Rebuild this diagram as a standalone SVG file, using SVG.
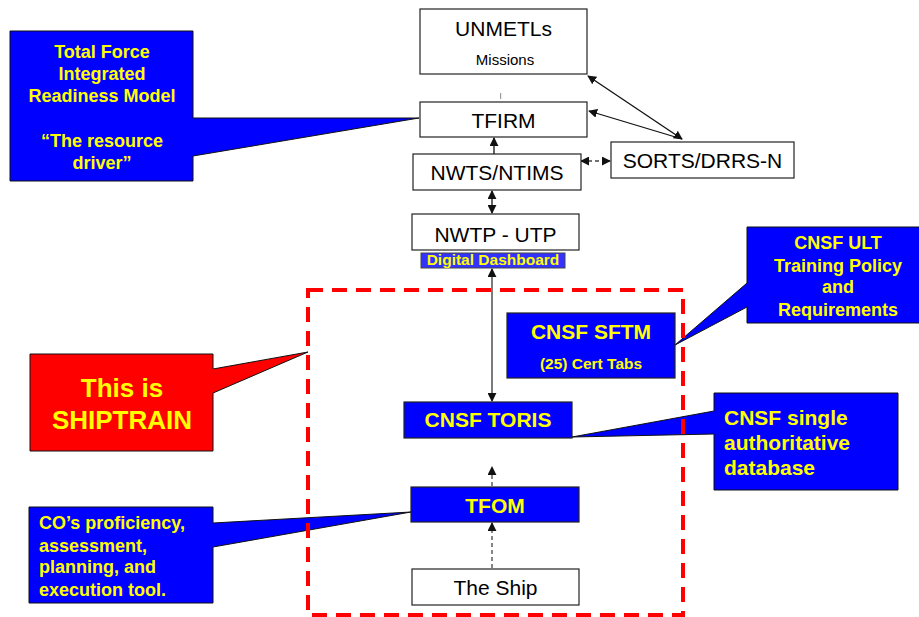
<svg xmlns="http://www.w3.org/2000/svg" width="919" height="617" viewBox="0 0 919 617">
<style>
.box{fill:#fff;stroke:#222;stroke-width:1.2}
.bbox{fill:#0000ff;stroke:#222;stroke-width:1.2}
.call{fill:#0000ff;stroke:#111;stroke-width:1}
.t{font-family:"Liberation Sans",Arial,sans-serif;fill:#000;text-anchor:middle}
.y{font-family:"Liberation Sans",Arial,sans-serif;fill:#ffff00;font-weight:bold}
.c{text-anchor:middle}
.ln{stroke:#111;stroke-width:1.3;fill:none}
.dash{stroke:#444;stroke-width:1.3;fill:none;stroke-dasharray:4,3}
</style>
<defs>
<marker id="ah" viewBox="0 0 10 10" refX="9" refY="5" markerWidth="9" markerHeight="9" markerUnits="userSpaceOnUse" orient="auto-start-reverse">
<path d="M0,0 L10,5 L0,10 z" fill="#111"/>
</marker>
</defs>
<rect width="919" height="617" fill="#fff"/>

<g id="callout-tfirm">
<polygon class="call" points="10,31 193,31 193,118 419,118 193,156 193,181 10,181"/>
<text class="y c" font-size="18" x="102" y="57.7">Total Force</text>
<text class="y c" font-size="18" x="102" y="79.5">Integrated</text>
<text class="y c" font-size="18" x="102" y="102">Readiness Model</text>
<text class="y c" font-size="18" x="102" y="147">“The resource</text>
<text class="y c" font-size="18" x="102" y="169">driver”</text>
</g>

<g id="callout-ult">
<polygon class="call" points="747,227 920,227 920,323 747,323 747,307 675,345 747,283"/>
<text class="y c" font-size="18" x="838" y="249.3">CNSF ULT</text>
<text class="y c" font-size="18" x="838" y="271.7">Training Policy</text>
<text class="y c" font-size="18" x="838" y="293.3">and</text>
<text class="y c" font-size="18" x="838" y="316">Requirements</text>
</g>

<g id="callout-db">
<polygon class="call" points="714,393 898,393 898,490 714,490 714,434 572,437 714,411"/>
<text class="y" font-size="21" x="724" y="425">CNSF single</text>
<text class="y" font-size="21" x="724" y="450">authoritative</text>
<text class="y" font-size="21" x="724" y="475">database</text>
</g>

<g id="callout-shiptrain">
<polygon points="30,354 213,354 213,369 308,352 213,393 213,451 30,451" fill="#ff0000" stroke="#111" stroke-width="1"/>
<text class="y c" font-size="26" x="122" y="396.7">This is</text>
<text class="y c" font-size="26" x="122" y="428.7">SHIPTRAIN</text>
</g>

<g id="callout-tfom">
<polygon class="call" points="29,507 213,507 213,523 411,512 213,547 213,603 29,603"/>
<text class="y" font-size="18" x="39" y="529.3">CO’s proficiency,</text>
<text class="y" font-size="18" x="39" y="551.7">assessment,</text>
<text class="y" font-size="18" x="39" y="573.3">planning, and</text>
<text class="y" font-size="18" x="39" y="595.7">execution tool.</text>
</g>

<g id="shiptrain-boundary">
<rect x="308" y="290" width="375" height="325" fill="none" stroke="#ff0000" stroke-width="4" stroke-dasharray="15,9"/>
</g>

<g id="connectors">
<line x1="500.7" y1="93" x2="500.7" y2="99" stroke="#888" stroke-width="1"/>
<line class="ln" x1="494" y1="154" x2="494" y2="138" marker-end="url(#ah)"/>
<line class="ln" x1="492" y1="191" x2="492" y2="213" marker-start="url(#ah)" marker-end="url(#ah)"/>
<line class="dash" x1="581" y1="161" x2="610" y2="161" marker-start="url(#ah)" marker-end="url(#ah)"/>
<line class="ln" x1="588" y1="76" x2="682" y2="139" marker-start="url(#ah)" marker-end="url(#ah)"/>
<line class="ln" x1="589" y1="111" x2="682" y2="139" marker-start="url(#ah)"/>
<line stroke="#333" stroke-width="1.3" x1="492" y1="269" x2="492" y2="401" marker-start="url(#ah)" marker-end="url(#ah)"/>
<line class="dash" x1="492" y1="486" x2="492" y2="467" marker-end="url(#ah)"/>
<line class="dash" x1="492" y1="568" x2="492" y2="523" marker-end="url(#ah)"/>
</g>

<g id="unmetls">
<rect class="box" x="420" y="9" width="167" height="65"/>
<text class="t" font-size="21" x="503.5" y="35.7">UNMETLs</text>
<text class="t" font-size="15" x="505" y="65">Missions</text>
</g>
<g id="tfirm">
<rect class="box" x="420" y="102" width="167" height="35"/>
<text class="t" font-size="21" x="503.5" y="128.3">TFIRM</text>
</g>
<g id="nwts">
<rect class="box" x="413" y="154" width="168" height="36" stroke="#555"/>
<text class="t" font-size="21" x="497" y="180">NWTS/NTIMS</text>
</g>
<g id="sorts">
<rect class="box" x="611" y="142" width="183" height="36" stroke="#555"/>
<text class="t" font-size="21" x="702.5" y="167.7">SORTS/DRRS-N</text>
</g>
<g id="nwtp">
<rect class="box" x="412" y="214" width="167" height="36"/>
<text class="t" font-size="21" x="495.5" y="241.7">NWTP - UTP</text>
<rect x="421" y="253" width="144" height="15" fill="#3333ff" stroke="#444" stroke-width="1"/>
<text class="y c" font-size="15.5" x="493" y="265">Digital Dashboard</text>
</g>
<g id="sftm">
<rect class="bbox" x="507" y="313" width="168" height="65"/>
<text class="y c" font-size="21" x="591" y="339">CNSF SFTM</text>
<text class="y c" font-size="15.5" x="591" y="369">(25) Cert Tabs</text>
</g>
<g id="toris">
<rect class="bbox" x="404" y="402" width="168" height="36"/>
<text class="y c" font-size="21" x="488" y="427.3">CNSF TORIS</text>
</g>
<g id="tfom">
<rect class="bbox" x="411" y="487" width="168" height="35"/>
<text class="y c" font-size="21" x="495" y="513.3">TFOM</text>
</g>
<g id="ship">
<rect class="box" x="412" y="569" width="167" height="36" stroke="#555"/>
<text class="t" font-size="21" x="495.5" y="595">The Ship</text>
</g>
</svg>
